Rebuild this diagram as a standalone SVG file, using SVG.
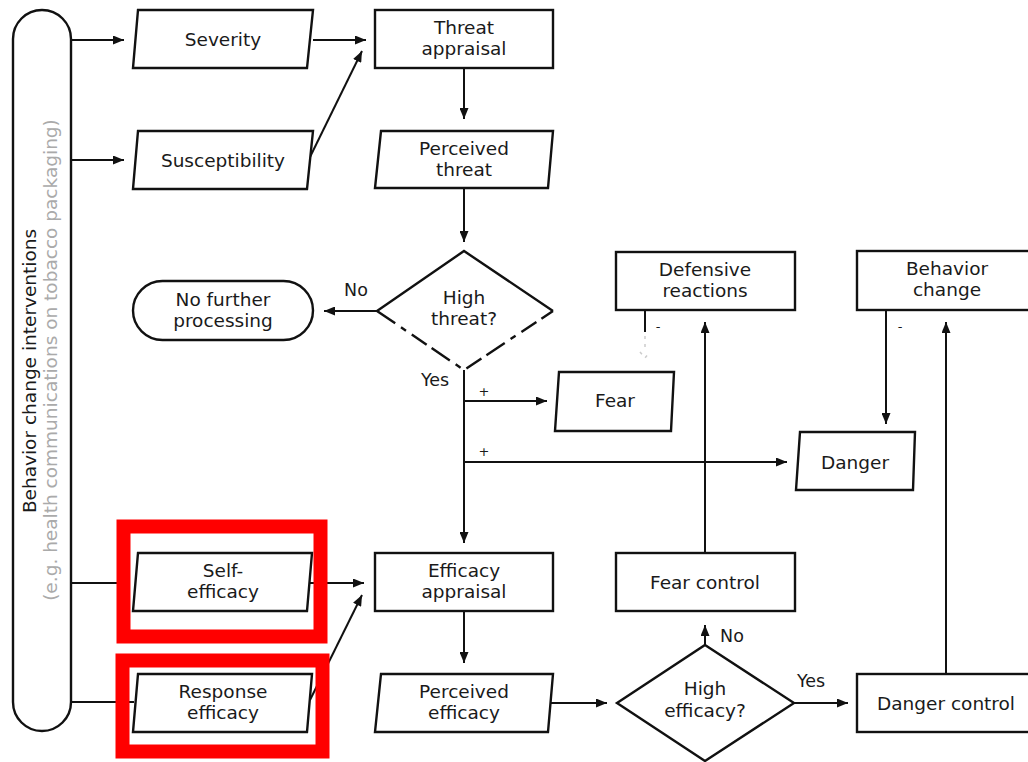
<svg xmlns="http://www.w3.org/2000/svg" width="1028" height="762" viewBox="0 0 1028 762">
<style>
.n{fill:#fff;stroke:#111;stroke-width:2.4}
.t{font-family:"DejaVu Sans",sans-serif;font-size:18.5px;fill:#1a1a1a;text-anchor:middle}
.l{font-family:"DejaVu Sans",sans-serif;font-size:17.5px;fill:#1a1a1a;text-anchor:middle}
.s{font-family:"DejaVu Sans",sans-serif;font-size:13px;fill:#1a1a1a;text-anchor:middle}
.c{fill:none;stroke:#111;stroke-width:2}
.a{marker-end:url(#ah)}
.red{fill:none;stroke:#f00;stroke-width:14}
</style>
<defs>
<marker id="ah" markerUnits="userSpaceOnUse" markerWidth="11" markerHeight="9" refX="11" refY="4.5" orient="auto">
<path d="M0,0 L11,4.5 L0,9 z" fill="#111"/>
</marker>
</defs>
<rect width="1028" height="762" fill="#fff"/>

<g id="connectors">
<path class="c a" d="M71,40 H124"/>
<path class="c a" d="M71,160 H124"/>
<path class="c a" d="M71,583 H128"/>
<path class="c" d="M71,702 H134"/>
<path class="c a" d="M313,40 H366"/>
<path class="c a" d="M310,157 L362,51"/>
<path class="c a" d="M464,68 V119"/>
<path class="c a" d="M464,188 V242"/>
<path class="c a" d="M377,311 H324"/>
<path class="c a" d="M464,370 V543"/>
<path class="c a" d="M464,401 H547"/>
<path class="c a" d="M464,462 H787"/>
<path class="c" d="M645,310 V332"/>
<path d="M645,336 V352 M640,352 L645,358 L650,352" fill="none" stroke="#ccc" stroke-width="1.5" stroke-dasharray="3 5"/>
<path class="c a" d="M705,553 V322"/>
<path class="c a" d="M886,310 V424"/>
<path class="c a" d="M946,674 V322"/>
<path class="c a" d="M310,583 H364"/>
<path class="c a" d="M310,700 L362,595"/>
<path class="c a" d="M464,611 V663"/>
<path class="c a" d="M550,703 H607"/>
<path class="c a" d="M705,645 V625"/>
<path class="c a" d="M794,703 H848"/>
<text class="l" x="356" y="296">No</text>
<text class="l" x="435" y="386">Yes</text>
<text class="s" x="484" y="396">+</text>
<text class="s" x="484" y="456">+</text>
<text class="s" x="658" y="331">-</text>
<text class="s" x="900" y="331">-</text>
<text class="l" x="732" y="642">No</text>
<text class="l" x="811" y="687">Yes</text>
</g>

<g id="sidebar">
<rect class="n" x="13" y="10" width="58" height="721" rx="29" ry="29" fill="none"/>
<text class="t" transform="translate(36,371) rotate(-90)">Behavior change interventions</text>
<text class="t" transform="translate(57,360) rotate(-90)" style="fill:#aaa">(e.g. health communications on tobacco packaging)</text>
</g>

<g id="severity">
<polygon class="n" points="138,10 313,10 307,68 133,68"/>
<text class="t" x="223" y="46">Severity</text>
</g>
<g id="susceptibility">
<polygon class="n" points="138,131 313,131 307,189 133,189"/>
<text class="t" x="223" y="167">Susceptibility</text>
</g>
<g id="threat-appraisal">
<rect class="n" x="375" y="10" width="178" height="58"/>
<text class="t" x="464" y="34">Threat</text>
<text class="t" x="464" y="55">appraisal</text>
</g>
<g id="perceived-threat">
<polygon class="n" points="381,131 553,131 548,188 375,188"/>
<text class="t" x="464" y="155">Perceived</text>
<text class="t" x="464" y="176">threat</text>
</g>
<g id="high-threat">
<path d="M377,311 L464,251 L553,311" fill="#fff" stroke="#111" stroke-width="2.4"/>
<path d="M377,311 L464,370 L553,311" fill="none" stroke="#111" stroke-width="2.4" stroke-dasharray="22 7 6 7 18 6"/>
<text class="t" x="464" y="304">High</text>
<text class="t" x="464" y="325">threat?</text>
</g>
<g id="no-further-processing">
<rect class="n" x="133" y="281" width="180" height="59" rx="29.5" ry="29.5"/>
<text class="t" x="223" y="306">No further</text>
<text class="t" x="223" y="327">processing</text>
</g>
<g id="defensive-reactions">
<rect class="n" x="616" y="252" width="179" height="58"/>
<text class="t" x="705" y="276">Defensive</text>
<text class="t" x="705" y="297">reactions</text>
</g>
<g id="behavior-change">
<rect class="n" x="857" y="251" width="190" height="59"/>
<text class="t" x="947" y="275">Behavior</text>
<text class="t" x="947" y="296">change</text>
</g>
<g id="fear">
<polygon class="n" points="559,372 674,372 671,431 555,431"/>
<text class="t" x="615" y="407">Fear</text>
</g>
<g id="danger">
<polygon class="n" points="800,432 915,432 913,490 796,490"/>
<text class="t" x="855" y="469">Danger</text>
</g>
<g id="self-efficacy">
<polygon class="n" points="138,553 312,553 307,611 133,611"/>
<text class="t" x="223" y="577">Self-</text>
<text class="t" x="223" y="598">efficacy</text>
</g>
<g id="response-efficacy">
<polygon class="n" points="138,674 312,674 307,732 133,732"/>
<text class="t" x="223" y="698">Response</text>
<text class="t" x="223" y="719">efficacy</text>
</g>
<g id="efficacy-appraisal">
<rect class="n" x="375" y="553" width="178" height="58"/>
<text class="t" x="464" y="577">Efficacy</text>
<text class="t" x="464" y="598">appraisal</text>
</g>
<g id="fear-control">
<rect class="n" x="616" y="553" width="179" height="58"/>
<text class="t" x="705" y="589">Fear control</text>
</g>
<g id="perceived-efficacy">
<polygon class="n" points="381,674 553,674 548,732 375,732"/>
<text class="t" x="464" y="698">Perceived</text>
<text class="t" x="464" y="719">efficacy</text>
</g>
<g id="high-efficacy">
<polygon class="n" points="705,645 794,703 705,761 617,703"/>
<text class="t" x="705" y="695">High</text>
<text class="t" x="705" y="717">efficacy?</text>
</g>
<g id="danger-control">
<rect class="n" x="857" y="674" width="190" height="58"/>
<text class="t" x="946" y="710">Danger control</text>
</g>
<g id="highlights">
<rect class="red" x="123.5" y="526.5" width="197" height="110"/>
<rect class="red" x="122.5" y="660.5" width="200" height="91"/>
</g>
</svg>
